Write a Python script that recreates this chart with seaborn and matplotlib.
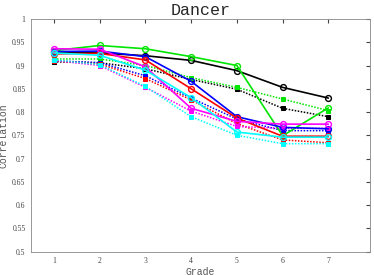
import seaborn as sns
import matplotlib.pyplot as plt
import pandas as pd

grades = [1, 2, 3, 4, 5, 6, 7]
colors = ["black", "#00e600", "blue", "red", "magenta", "cyan"]

solid_black = [0.928, 0.927, 0.921, 0.911, 0.889, 0.853, 0.830]
solid_green = [0.932, 0.943, 0.936, 0.919, 0.900, 0.749, 0.809]
solid_blue = [0.930, 0.931, 0.919, 0.866, 0.790, 0.767, 0.764]
solid_red = [0.925, 0.926, 0.912, 0.850, 0.787, 0.748, 0.748]
solid_magenta = [0.936, 0.935, 0.897, 0.808, 0.780, 0.774, 0.774]
solid_cyan = [0.927, 0.922, 0.890, 0.831, 0.757, 0.746, 0.746]

dot_black = [0.908, 0.906, 0.893, 0.870, 0.849, 0.808, 0.790]
dot_green = [0.914, 0.914, 0.900, 0.874, 0.853, 0.828, 0.803]
dot_blue = [0.910, 0.906, 0.878, 0.830, 0.785, 0.760, 0.760]
dot_red = [0.910, 0.903, 0.872, 0.826, 0.775, 0.740, 0.734]
dot_magenta = [0.911, 0.900, 0.853, 0.802, 0.769, 0.765, 0.765]
dot_cyan = [0.912, 0.902, 0.855, 0.790, 0.750, 0.732, 0.732]

solid = [solid_black, solid_green, solid_blue, solid_red, solid_magenta, solid_cyan]
dotted = [dot_black, dot_green, dot_blue, dot_red, dot_magenta, dot_cyan]

sns.set_style("white")
plt.rcParams["font.family"] = ["Liberation Serif", "DejaVu Sans"]

fig = plt.figure(figsize=(3.74, 2.75), dpi=100)
ax = fig.add_axes([0.083, 0.085, 0.905, 0.846])

# dotted series first, solid on top
for vals, c in zip(dotted, colors):
    df = pd.DataFrame({"Grade": grades, "Correlation": vals})
    sns.lineplot(data=df, x="Grade", y="Correlation", ax=ax, color=c,
                 linestyle=(0, (1, 1)), linewidth=1.1, marker="s",
                 markersize=2.8, markeredgecolor=c, markerfacecolor=c)
for vals, c in zip(solid, colors):
    df = pd.DataFrame({"Grade": grades, "Correlation": vals})
    sns.lineplot(data=df, x="Grade", y="Correlation", ax=ax, color=c,
                 linewidth=1.2, marker="o", markersize=4.2,
                 markerfacecolor="none", markeredgecolor=c, markeredgewidth=1.0)

ax.set_xlim(0.5, 7.9)
ax.set_ylim(0.5, 1.0)
ax.set_xticks(grades)
ax.set_yticks([0.5, 0.55, 0.6, 0.65, 0.7, 0.75, 0.8, 0.85, 0.9, 0.95, 1.0])
ax.set_yticklabels(["0.5", "0.55", "0.6", "0.65", "0.7", "0.75", "0.8", "0.85",
                    "0.9", "0.95", "1"])
ax.tick_params(direction="in", length=3, labelsize=5.5, colors="#444444",
               top=True, right=True, pad=4)
for s in ax.spines.values():
    s.set_color("#888888")
    s.set_linewidth(0.6)

mono = ["Liberation Mono", "DejaVu Sans Mono"]
ax.set_xlabel("Grade", fontsize=7, family=mono, color="#555555", labelpad=1)
ax.set_ylabel("Correlation", fontsize=7, family=mono, color="#555555", labelpad=3)
ax.set_title("Dancer", fontsize=12, family=mono, pad=3)

plt.savefig("out.png", dpi=100)
